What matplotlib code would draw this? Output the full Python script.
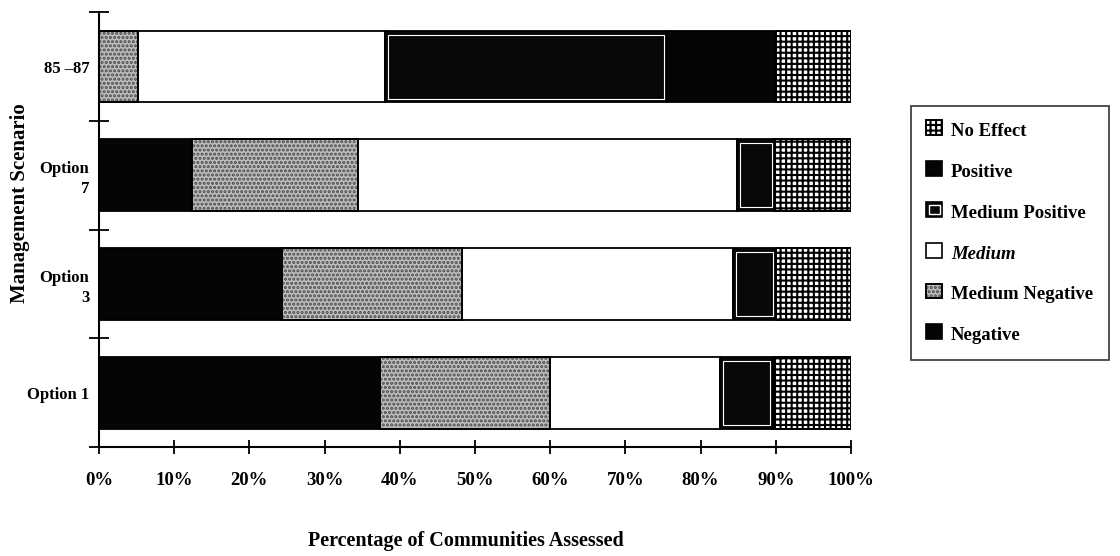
import matplotlib
matplotlib.use("Agg")
import matplotlib.pyplot as plt
import numpy as np

plt.rcParams['font.family'] = ['Liberation Serif', 'DejaVu Serif']
plt.rcParams['hatch.linewidth'] = 1.5

# ---- data (percent of communities assessed) ----
scenarios = ["Option 1", "Option\n3", "Option\n7", "85 \u201387"]
negative        = [37.4, 24.3, 12.4, 0.0]
medium_negative = [22.6, 24.0, 22.0, 5.2]
medium          = [22.6, 36.0, 50.4, 32.8]
medium_positive = [7.0, 5.7, 5.1, 37.5]
positive        = [0.0, 0.0, 0.0, 14.5]
no_effect       = [10.4, 10.0, 10.1, 10.0]

series = [
    ("Negative", negative),
    ("Medium Negative", medium_negative),
    ("Medium", medium),
    ("Medium Positive", medium_positive),
    ("Positive", positive),
    ("No Effect", no_effect),
]
xticklabels = ["0%", "10%", "20%", "30%", "40%", "50%", "60%", "70%", "80%", "90%", "100%"]

styles = {
    "Negative":        dict(face="#050505", hatch=None, hcol=None),
    "Medium Negative": dict(face="#bdbdbd", hatch="....", hcol="#4a4a4a"),
    "Medium":          dict(face="white", hatch=None, hcol=None),
    "Medium Positive": dict(face="#080808", hatch=None, hcol=None),
    "Positive":        dict(face="#050505", hatch=None, hcol=None),
    "No Effect":       dict(face="white", hatch="+++", hcol="black"),
}

fig = plt.figure(figsize=(11.2, 5.56), dpi=100)
ax = fig.add_axes([0.0884, 0.196, 0.6714, 0.782])

ypos = np.arange(len(scenarios)) + 0.5
h = 0.66
left = np.zeros(len(scenarios))
handles = {}
for name, vals in series:
    vals = np.array(vals)
    st = styles[name]
    bars = ax.barh(ypos, vals, left=left, height=h, color=st["face"],
                   edgecolor="black", linewidth=1.3, zorder=2)
    if st["hatch"]:
        ax.barh(ypos, vals, left=left, height=h, color="none",
                edgecolor=st["hcol"], linewidth=0, hatch=st["hatch"], zorder=3)
        ax.barh(ypos, vals, left=left, height=h, color="none",
                edgecolor="black", linewidth=1.3, zorder=4)
    if name == "Medium Positive":
        m = vals > 0
        ax.barh(ypos[m], vals[m] - 0.8, left=left[m] + 0.4, height=h - 0.07,
                color="none", edgecolor="white", linewidth=0.8, zorder=4)
    handles[name] = bars
    left = left + vals

ax.set_xlim(0, 100)
ax.set_ylim(0, 4)
for s in ["top", "right"]:
    ax.spines[s].set_visible(False)
ax.spines["left"].set_linewidth(1.5)
ax.spines["bottom"].set_linewidth(1.5)

ax.set_xticks(np.arange(0, 101, 10))
ax.set_xticklabels(xticklabels, fontsize=13.5, fontweight="bold")
ax.tick_params(axis="x", direction="inout", length=10, width=1.3, pad=13)
ax.set_yticks([0, 1, 2, 3, 4])
ax.set_yticklabels([])
ax.tick_params(axis="y", direction="inout", length=14, width=1.3)
ax.set_yticks(ypos, minor=True)
ax.set_yticklabels(scenarios, minor=True, fontsize=12, fontweight="bold",
                   ha="right", linespacing=1.3)
ax.tick_params(axis="y", which="minor", length=0, pad=7)

fig.text(0.416, 0.027, "Percentage of Communities Assessed", fontsize=14.5,
         fontweight="bold", ha="center", va="center")
fig.text(0.018, 0.635, "Management Scenario", fontsize=15, fontweight="bold",
         rotation=90, ha="center", va="center")

# legend
from matplotlib.patches import Rectangle
from matplotlib.legend_handler import HandlerBase

class BoxHandler(HandlerBase):
    def __init__(self, name):
        super().__init__()
        self.name = name
    def create_artists(self, legend, orig, xd, yd, w, hh, fs, trans):
        st = styles[self.name]
        arts = []
        r = Rectangle((xd, yd), w, hh, facecolor=st["face"], edgecolor="black",
                      linewidth=1.2, transform=trans)
        arts.append(r)
        if st["hatch"]:
            r2 = Rectangle((xd, yd), w, hh, facecolor="none", edgecolor=st["hcol"],
                           linewidth=0, hatch=st["hatch"], transform=trans)
            arts.append(r2)
            r3 = Rectangle((xd, yd), w, hh, facecolor="none", edgecolor="black",
                           linewidth=1.2, transform=trans)
            arts.append(r3)
        if self.name == "Medium Positive":
            r4 = Rectangle((xd + 2, yd + 2), w - 4, hh - 4, facecolor="none",
                           edgecolor="white", linewidth=1.0, transform=trans)
            arts.append(r4)
        return arts

order = ["No Effect", "Positive", "Medium Positive", "Medium", "Medium Negative", "Negative"]
leg = fig.legend([handles[n] for n in order], order,
                 handler_map={handles[n]: BoxHandler(n) for n in order},
                 loc="upper left", bbox_to_anchor=(0.813, 0.809), borderaxespad=0,
                 frameon=True, fancybox=False, edgecolor="black",
                 handlelength=0.85, handleheight=0.85, handletextpad=0.45,
                 labelspacing=1.22, borderpad=0.85,
                 prop=dict(family="Liberation Serif", weight="bold", size=13.5))
leg.get_frame().set_linewidth(1.2)
for t in leg.get_texts():
    if t.get_text() == "Medium":
        t.set_style("italic")

fig.savefig("out.png", dpi=100)
